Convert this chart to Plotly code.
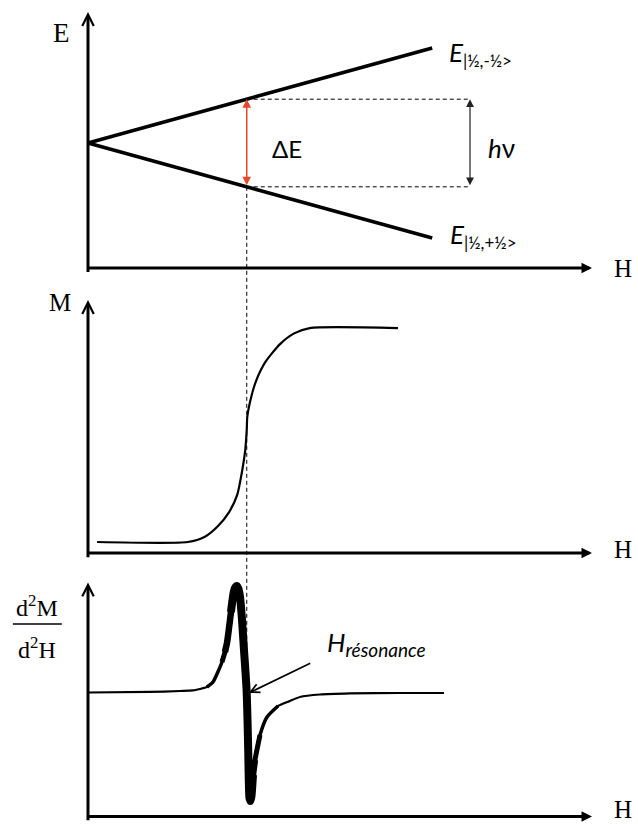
import numpy as np
import plotly.graph_objects as go

# ---- Zeeman levels of a spin 1/2 (field H and energy E in arbitrary units) ----
level_H = [0.0, 6.83]
level_up = [0.0, 1.90]      # E|1/2,-1/2>
level_down = [0.0, -1.90]   # E|1/2,+1/2>

H_res = 3.15   # resonance field
H_hv = 7.58    # position of the h-nu gauge

# ---- Magnetisation M(H) ----
M_H = [0.18, 1.98, 2.32, 2.58, 2.80, 2.96, 3.06, 3.12, 3.15, 3.16,
       3.21, 3.33, 3.53, 3.81, 4.09, 4.40, 6.15]
M_val = [-1.00, -1.00, -0.95, -0.85, -0.72, -0.56, -0.33, -0.14, 0.05, 0.17,
         0.30, 0.50, 0.69, 0.85, 0.95, 1.00, 1.00]

# ---- Derivative signal d2M/d2H ----
D_H = [0.000, 1.230, 1.825, 2.083, 2.222, 2.361, 2.480, 2.579, 2.659, 2.718,
       2.758, 2.798, 2.837, 2.867, 2.897, 2.927, 2.956, 2.986, 3.016, 3.056,
       3.095, 3.125, 3.149, 3.165, 3.179, 3.190, 3.204, 3.224, 3.244, 3.274,
       3.313, 3.413, 3.552, 3.770, 4.008, 4.206, 4.603, 5.198, 6.190, 7.063]
D_val = [0.000, 0.005, 0.014, 0.019, 0.033, 0.051, 0.098, 0.194, 0.285, 0.379,
         0.463, 0.603, 0.752, 0.864, 0.949, 0.986, 0.995, 0.967, 0.893, 0.678,
         0.397, 0.192, 0.000, -0.257, -0.537, -0.818, -0.986, -1.014, -0.967, -0.771,
         -0.631, -0.397, -0.229, -0.126, -0.079, -0.042, -0.019, -0.009, -0.005, -0.005]

W, HT = 638, 824
X_RANGE = [-1.746, 10.913]
H_TIP = 10.0
PANELS = {
    "y": dict(domain=[0.66019, 1.0], range=[-2.74, 2.86], base=-2.5, tip=2.62),
    "y2": dict(domain=[0.32039, 0.66019], range=[-1.168, 1.449], base=-1.103, tip=1.262),
    "y3": dict(domain=[0.0, 0.32039], range=[-1.229, 1.238], base=-1.159, tip=1.028),
}
SERIF = "Liberation Serif"
SANS = "Lato"
RED = "#e4482a"


def to_paper(yk, v):
    p = PANELS[yk]
    d0, d1 = p["domain"]
    r0, r1 = p["range"]
    return d0 + (v - r0) / (r1 - r0) * (d1 - d0)


fig = go.Figure()
annotations = []
shapes = []

# Energy levels
for vals in (level_up, level_down):
    fig.add_trace(go.Scatter(x=level_H, y=vals, mode="lines", xaxis="x", yaxis="y",
                             line=dict(color="black", width=3.5), hoverinfo="skip"))

E_up_res = float(np.interp(H_res, level_H, level_up))
E_dn_res = float(np.interp(H_res, level_H, level_down))

# Dashed guides
for e in (E_up_res, E_dn_res):
    shapes.append(dict(type="line", xref="x", yref="y", x0=H_res, x1=H_hv, y0=e, y1=e,
                       line=dict(color="black", width=1, dash="4px,3px")))
shapes.append(dict(type="line", xref="x", yref="paper", x0=H_res, x1=H_res,
                   y0=to_paper("y", E_dn_res), y1=to_paper("y3", 0.0),
                   line=dict(color="black", width=1, dash="4px,3px")))

# Magnetisation curve
fig.add_trace(go.Scatter(x=M_H, y=M_val, mode="lines", xaxis="x", yaxis="y2",
                         line=dict(color="black", width=2.2, shape="spline", smoothing=0.6),
                         hoverinfo="skip"))

# Derivative curve, stroke thickening around the resonance
D_H_arr = np.array(D_H)
D_val_arr = np.array(D_val)
for lo, hi, w in ((-1, 99, 2.2), (2.36, 3.77, 3.5), (2.58, 3.55, 5.0),
                  (2.70, 3.41, 6.5), (2.80, 3.28, 8.0)):
    m = (D_H_arr >= lo) & (D_H_arr <= hi)
    fig.add_trace(go.Scatter(x=D_H_arr[m], y=D_val_arr[m], mode="lines", xaxis="x", yaxis="y3",
                             line=dict(color="black", width=w, shape="spline", smoothing=0.6),
                             hoverinfo="skip"))


def arrow(x, y, ax, ay, yref, head, size, width, color="black", side="end"):
    annotations.append(dict(x=x, y=y, ax=ax, ay=ay, xref="x", yref=yref, axref="x", ayref=yref,
                            text="", showarrow=True, arrowhead=head, startarrowhead=head,
                            arrowsize=size, startarrowsize=size,
                            arrowwidth=width, arrowcolor=color, arrowside=side))


# Axes with arrows
for yk, p in PANELS.items():
    arrow(H_TIP, p["base"], -0.03, p["base"], yk, 2, 0.7, 3)
    arrow(0.0, p["tip"], 0.0, p["base"] - 0.02 * (p["range"][1] - p["range"][0]), yk, 5, 0.75, 3)

# Delta E (red) and h-nu arrows
arrow(H_res, E_up_res, H_res, E_dn_res, "y", 2, 1.15, 1.5, RED, "end+start")
arrow(H_hv, E_up_res, H_hv, E_dn_res, "y", 2, 1.3, 1.2, "#222222", "end+start")

# Resonance pointer
arrow(3.19, -0.005, 4.44, 0.28, "y3", 5, 1.1, 1.6)


def label(x, y, yref, text, size, family, xanchor="center", yanchor="middle"):
    annotations.append(dict(x=x, y=y, xref="x", yref=yref, text=text, showarrow=False,
                            font=dict(size=size, family=family, color="black"),
                            xanchor=xanchor, yanchor=yanchor))


# Axis titles
label(-0.52, 2.20, "y", "E", 27, SERIF)
label(-0.56, 1.24, "y2", "M", 25, SERIF)
for yk, yv in (("y", -2.5), ("y2", -1.07), ("y3", -1.09)):
    label(10.62, yv, yk, "H", 25, SERIF)

label(-1.01, 0.81, "y3", "d<sup>2</sup>M", 24, SERIF)
label(-1.01, 0.42, "y3", "d<sup>2</sup>H", 24, SERIF)
shapes.append(dict(type="line", xref="x", yref="y3", x0=-1.49, x1=-0.52, y0=0.64, y1=0.64,
                   line=dict(color="black", width=1.5)))

# Level and transition labels
label(7.12, 1.80, "y",
      "<i>E</i><sub><span style='font-size:17px'>|½,-½&gt;</span></sub>", 26, SANS, "left")
label(7.14, -1.85, "y",
      "<i>E</i><sub><span style='font-size:17px'>|½,+½&gt;</span></sub>", 26, SANS, "left")
label(3.95, -0.10, "y", "ΔE", 24, SANS)
label(8.21, -0.10, "y", "<i>h</i>ν", 26, SANS)
label(4.70, 0.46, "y3",
      "<i>H</i><sub><span style='font-size:19px'><i>résonance</i></span></sub>", 26, SANS, "left")

layout_axes = dict(
    xaxis=dict(range=X_RANGE, domain=[0, 1], visible=False, fixedrange=True, anchor="y"),
)
for yk, p in PANELS.items():
    name = "yaxis" if yk == "y" else "yaxis" + yk[1:]
    layout_axes[name] = dict(domain=p["domain"], range=p["range"], visible=False,
                             fixedrange=True, anchor="x")

fig.update_layout(
    width=W, height=HT, margin=dict(l=0, r=0, t=0, b=0),
    paper_bgcolor="white", plot_bgcolor="white", showlegend=False,
    annotations=annotations, shapes=shapes, **layout_axes,
)

fig.write_html("out.html")
